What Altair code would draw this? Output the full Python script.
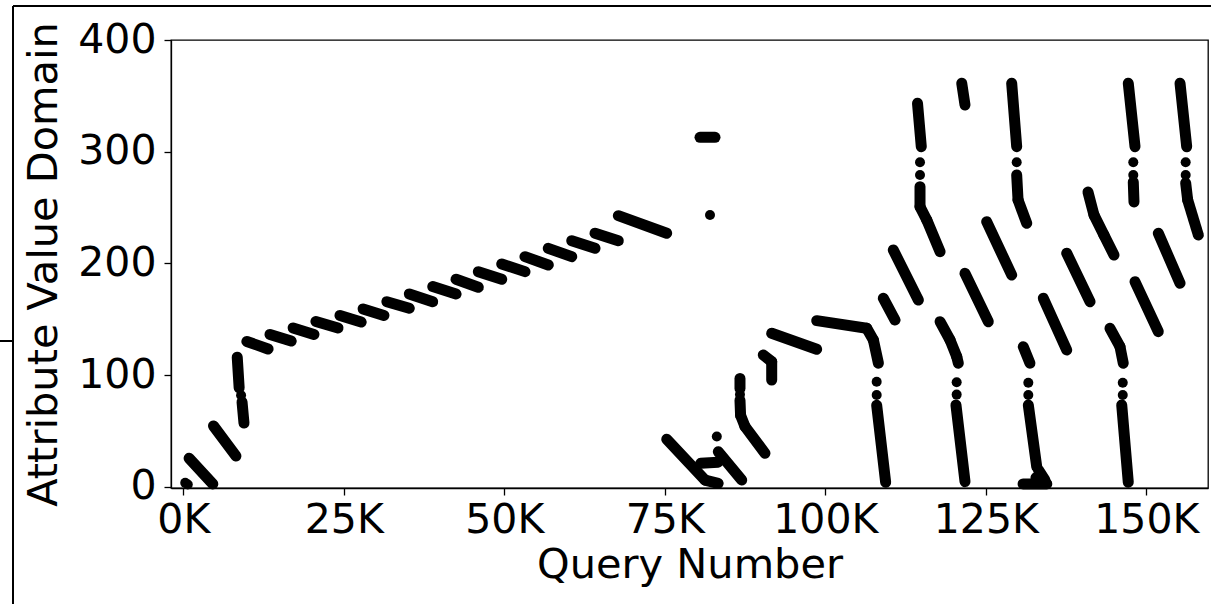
import altair as alt
import pandas as pd

# ---- segments of consecutive queries (start -> end), data units ----
seg_x1 = [900, 4700, 8400, 9150,
          9900, 13500, 17100, 20650, 24400, 28000, 31700, 35200, 38850, 42480,
          45950, 49600, 53220, 56850, 60500, 64130, 67760,
          75300, 81260, 80600, 83330,
          86710, 86710, 86800, 87490,
          90340, 91650, 91650, 98660, 106450, 107490, 108000,
          80480,
          114360, 114750, 114750, 115800,
          121250,
          129030, 129810, 130020,
          147190, 147970,
          155250, 156130, 156440,
          140910, 141850, 143400,
          110590, 109030, 125140, 121760,
          117870, 119430, 120470, 120350,
          137600, 133950, 130840, 131620, 130800, 133200, 132800,
          151870, 148240, 144340, 145900, 146170]
seg_y1 = [25.5, 54.5, 116, 76,
          130.1, 136.4, 142.2, 148.0, 153.4, 159.2, 165.7, 172.6, 179.2, 185.8,
          192.6, 199.5, 206.0, 213.5, 220.3, 227.0, 242.7,
          42.5, 6.0, 21.0, 31.4,
          97, 77.5, 64, 54,
          118, 112, 137.4, 148.7, 141.9, 131.4, 73,
          312.9,
          343.3, 268.7, 250.8, 238.9,
          361.3,
          361.3, 279.2, 256.8,
          361.3, 272.9,
          361.3, 272.0, 256.8,
          263.9, 243.3, 225.4,
          212.0, 168.8, 237.3, 191.1,
          147.8, 131.4, 116.5, 73.2,
          209.1, 168.8, 125.4, 73.2, 2.5, 15, 8,
          227.0, 183.6, 141.9, 125.4, 73.2]
seg_x2 = [4600, 8200, 8700, 9450,
          13200, 16800, 20350, 24100, 27700, 31250, 35200, 38850, 42480, 45950,
          49600, 53220, 56850, 60500, 64130, 67760, 75300,
          81260, 83300, 83300, 86980,
          86710, 86800, 87490, 90600,
          91650, 91650, 98660, 106450, 107490, 108270, 109400,
          82820,
          114950, 114750, 115800, 117870,
          121760,
          129810, 130020, 131370,
          148240, 148080,
          156290, 156440, 158100,
          141850, 143400, 144960,
          114490, 110860, 129030, 125390,
          119430, 120470, 120720, 121760,
          141230, 137600, 131880, 132930, 134500, 134200, 134400,
          155250, 151870, 145900, 146410, 147190]
seg_y2 = [2.5, 27.5, 88.5, 57,
          123.4, 130.5, 136.4, 142.2, 147.5, 153.4, 159.8, 165.7, 172.6, 178.6,
          185.8, 192.6, 198.6, 206.0, 213.5, 220.3, 227.0,
          6.0, 3.0, 22.0, 6.1,
          88, 64, 54, 30.0,
          112, 95.6, 123.1, 141.9, 131.4, 110.6, 4,
          312.9,
          304.5, 250.8, 238.9, 210.5,
          341.8,
          304.5, 256.8, 235.9,
          304.5, 255.0,
          304.5, 256.8, 225.4,
          243.3, 225.4, 207.5,
          167.2, 149.3, 189.6, 147.8,
          131.4, 116.5, 110.6, 4.6,
          165.7, 122.5, 110.6, 18, 2.5, 6, 3,
          182.2, 138.9, 125.4, 110.6, 4]

# ---- isolated queries ----
dot_x = [300, 700, 9000, 83100, 86710, 82040,
         108000, 108000, 114750, 114750, 129810, 147970, 147970,
         156130, 156130, 120460, 120460, 131620, 131620, 146330, 146330]
dot_y = [3.5, 2.0, 82, 45, 82.5, 243.3,
         94.1, 82.2, 290.5, 279.2, 290.5, 290.5, 279.2,
         290.5, 279.2, 93.5, 82.5, 93.2, 82.2, 93.2, 82.2]

x_ticks = [0, 25000, 50000, 75000, 100000, 125000, 150000]
y_ticks = [0, 100, 200, 300, 400]

segs = pd.DataFrame({"q": seg_x1, "v": seg_y1, "q2": seg_x2, "v2": seg_y2})
dots = pd.DataFrame({"q": dot_x, "v": dot_y})

FONT = "DejaVu Sans"
xscale = alt.Scale(domain=[-1916, 159608], nice=False, zero=False)
yscale = alt.Scale(domain=[-1.1, 400], nice=False, zero=False)

xaxis = alt.Axis(values=x_ticks, labelExpr="datum.value / 1000 + 'K'", title="Query Number",
                 grid=False, labelPadding=5, titlePadding=4)
yaxis = alt.Axis(values=y_ticks, title="Attribute Value Domain", grid=False,
                 labelPadding=8, titlePadding=12)

rules = alt.Chart(segs).mark_rule(color="black", strokeWidth=11, strokeCap="round").encode(
    x=alt.X("q:Q", scale=xscale, axis=xaxis),
    x2="q2:Q",
    y=alt.Y("v:Q", scale=yscale, axis=yaxis),
    y2="v2:Q",
)
points = alt.Chart(dots).mark_circle(color="black", opacity=1, size=100).encode(
    x=alt.X("q:Q", scale=xscale),
    y=alt.Y("v:Q", scale=yscale),
)

frame_left = alt.Chart(segs).mark_rule(color="black", strokeWidth=2).encode(
    x=alt.value(-158), y=alt.value(-34), y2=alt.value(570))
frame_top = alt.Chart(segs).mark_rule(color="black", strokeWidth=2).encode(
    x=alt.value(-158), x2=alt.value(1045), y=alt.value(-34))
frame_tick = alt.Chart(segs).mark_rule(color="black", strokeWidth=1.5).encode(
    x=alt.value(-175), x2=alt.value(-158), y=alt.value(301))

chart = alt.layer(rules, points, frame_left, frame_top, frame_tick).properties(
    width=1037, height=448,
    autosize=alt.AutoSizeParams(type="none"),
    padding={"left": 171, "top": 40, "right": 3, "bottom": 116},
).configure_view(stroke="black", strokeWidth=1.3).configure_axis(
    labelFont=FONT, titleFont=FONT, labelFontSize=41, titleFontSize=41.5,
    labelColor="black", titleColor="black", titleFontWeight="normal",
    domainColor="black", domainWidth=1.3, tickColor="black", tickWidth=1.3, tickSize=7,
)

chart.save("out.html", embed_options={"renderer": "svg", "actions": False})
